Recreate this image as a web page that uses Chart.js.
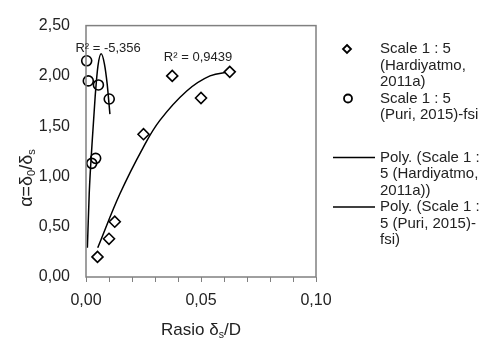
<!DOCTYPE html>
<html>
<head>
<meta charset="utf-8">
<script src="https://cdn.jsdelivr.net/npm/chart.js@4/dist/chart.umd.min.js"></script>
<style>
  html, body { margin: 0; padding: 0; background: #fff; }
  #wrap { width: 483px; height: 341px; }
</style>
</head>
<body>
<div id="wrap"><canvas id="chart" width="483" height="341"></canvas></div>
<script>
// measured points (ratio delta_s/D vs alpha)
const hardiyatmoX = [0.005, 0.010, 0.0125, 0.025, 0.0375, 0.050, 0.0625];
const hardiyatmoY = [0.20, 0.38, 0.55, 1.42, 2.00, 1.78, 2.04];

const puriX = [0.0003, 0.0010, 0.0054, 0.0101, 0.0025, 0.0042];
const puriY = [2.15, 1.95, 1.91, 1.77, 1.13, 1.18];

// poly trendlines
const hardiyatmoTrendX = [0.0051, 0.0148, 0.0249, 0.0322, 0.0438, 0.0539, 0.0626];
const hardiyatmoTrendY = [0.29, 0.83, 1.29, 1.56, 1.85, 2.00, 2.04];

const puriTrendX = [0.0006, 0.0014, 0.0027, 0.0040, 0.0052, 0.0066, 0.0080, 0.0092, 0.0104];
const puriTrendY = [0.29, 0.83, 1.35, 1.80, 2.10, 2.22, 2.12, 1.92, 1.62];

const r2Labels = ['R² = -5,356', 'R² = 0,9439'];

const legendText = [
  ['Scale 1 : 5', '(Hardiyatmo,', '2011a)'],
  ['Scale 1 : 5', '(Puri, 2015)-fsi'],
  ['Poly. (Scale 1 :', '5 (Hardiyatmo,', '2011a))'],
  ['Poly. (Scale 1 :', '5 (Puri, 2015)-', 'fsi)']
];

const FONT = "'Liberation Sans', Arial, sans-serif";
const zip = (xs, ys) => xs.map((x, i) => ({ x, y: ys[i] }));
const comma = v => Number(v).toFixed(2).replace('.', ',');

// text with subscripts: parts = [[text, isSub], ...]
function drawParts(c, parts, x, y, size, align) {
  const widths = parts.map(p => {
    c.font = (p[1] ? size * 0.62 : size) + 'px ' + FONT;
    return c.measureText(p[0]).width;
  });
  const total = widths.reduce((a, b) => a + b, 0);
  let cx = align === 'center' ? x - total / 2 : x;
  parts.forEach((p, i) => {
    c.font = (p[1] ? size * 0.62 : size) + 'px ' + FONT;
    c.fillText(p[0], cx, p[1] ? y + size * 0.28 : y);
    cx += widths[i];
  });
}

const extras = {
  id: 'extras',
  afterDraw(chart) {
    const c = chart.ctx;
    const a = chart.chartArea;
    const xs = chart.scales.x, ys = chart.scales.y;
    c.save();
    // plot box
    c.strokeStyle = '#808080';
    c.lineWidth = 1.5;
    c.strokeRect(a.left, a.top, a.right - a.left, a.bottom - a.top);

    c.fillStyle = '#222';
    c.textBaseline = 'middle';
    // R² labels
    c.font = '13px ' + FONT;
    c.textAlign = 'center';
    c.fillText(r2Labels[0], xs.getPixelForValue(0.0096), ys.getPixelForValue(2.27));
    c.fillText(r2Labels[1], xs.getPixelForValue(0.0487), ys.getPixelForValue(2.18));

    // axis titles
    c.textAlign = 'left';
    drawParts(c, [['Rasio δ', false], ['s', true], ['/D', false]], 201, 330, 17, 'center');
    c.save();
    c.translate(27, 178);
    c.rotate(-Math.PI / 2);
    drawParts(c, [['α=δ', false], ['0', true], ['/δ', false], ['s', true]], 0, 0, 18, 'center');
    c.restore();

    // legend
    const ds = chart.data.datasets;
    const lineH = 16.5;
    const tx = 380;
    let y = 49;
    legendText.forEach((lines, i) => {
      const d = ds[i];
      if (d.showLine) {
        c.strokeStyle = '#000';
        c.lineWidth = 1.5;
        c.beginPath();
        c.moveTo(333, y);
        c.lineTo(375, y);
        c.stroke();
      } else {
        c.strokeStyle = '#000';
        c.fillStyle = '#fff';
        c.lineWidth = 1.8;
        c.beginPath();
        if (d.pointStyle === 'rectRot') {
          const r = 4;
          c.moveTo(347, y - r); c.lineTo(347 + r, y); c.lineTo(347, y + r); c.lineTo(347 - r, y); c.closePath();
        } else {
          c.arc(348, y, 4, 0, Math.PI * 2);
        }
        c.fill();
        c.stroke();
      }
      c.fillStyle = '#222';
      c.font = '15px ' + FONT;
      lines.forEach((t, j) => c.fillText(t, tx, y + j * lineH));
      y += lines.length * lineH + (i === 1 ? 26 : 0);
    });
    c.restore();
  }
};

new Chart(document.getElementById('chart'), {
  type: 'scatter',
  data: {
    datasets: [
      {
        label: 'Scale 1 : 5 (Hardiyatmo, 2011a)',
        data: zip(hardiyatmoX, hardiyatmoY),
        pointStyle: 'rectRot',
        pointRadius: 5.5,
        pointBackgroundColor: '#fff',
        pointBorderColor: '#000',
        pointBorderWidth: 1.6,
        showLine: false,
        clip: false,
        order: 1
      },
      {
        label: 'Scale 1 : 5 (Puri, 2015)-fsi',
        data: zip(puriX, puriY),
        pointStyle: 'circle',
        pointRadius: 5,
        pointBackgroundColor: 'rgba(255,255,255,0)',
        pointBorderColor: '#000',
        pointBorderWidth: 1.6,
        showLine: false,
        clip: false,
        order: 1
      },
      {
        label: 'Poly. (Scale 1 : 5 (Hardiyatmo, 2011a))',
        data: zip(hardiyatmoTrendX, hardiyatmoTrendY),
        showLine: true,
        borderColor: '#000',
        borderWidth: 1.5,
        pointRadius: 0,
        tension: 0.4,
        order: 2
      },
      {
        label: 'Poly. (Scale 1 : 5 (Puri, 2015)-fsi)',
        data: zip(puriTrendX, puriTrendY),
        showLine: true,
        borderColor: '#000',
        borderWidth: 1.5,
        pointRadius: 0,
        cubicInterpolationMode: 'monotone',
        order: 2
      }
    ]
  },
  options: {
    responsive: false,
    animation: false,
    layout: { padding: { left: 0, top: 15, right: 167, bottom: 0 } },
    plugins: {
      legend: { display: false },
      tooltip: { enabled: false }
    },
    scales: {
      x: {
        type: 'linear',
        min: 0,
        max: 0.1,
        border: { display: false },
        grid: { drawOnChartArea: false, drawTicks: true, tickLength: 5, color: '#808080', lineWidth: 1 },
        ticks: {
          stepSize: 0.01,
          autoSkip: false,
          maxRotation: 0,
          padding: 9,
          color: '#222',
          font: { family: FONT, size: 16 },
          callback: v => (Math.round(v * 1000) % 50 === 0 ? comma(v) : '')
        },
        afterFit: s => { s.height = 64; }
      },
      y: {
        min: 0,
        max: 2.5,
        border: { display: false },
        grid: { display: false, drawTicks: false },
        ticks: {
          stepSize: 0.5,
          padding: 16,
          color: '#222',
          font: { family: FONT, size: 16 },
          callback: v => comma(v)
        },
        afterFit: s => { s.width = 86; }
      }
    }
  },
  plugins: [extras]
});
</script>
</body>
</html>
